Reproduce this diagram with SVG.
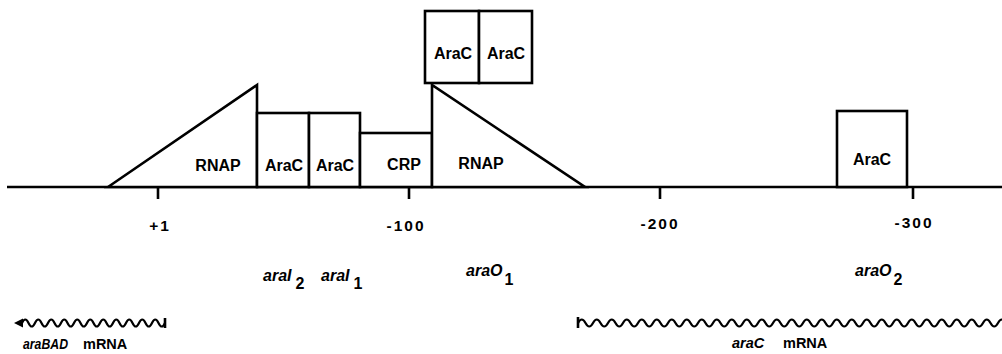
<svg xmlns="http://www.w3.org/2000/svg" width="1002" height="354" viewBox="0 0 1002 354">
<style>
.shape{fill:#fff;stroke:#000;stroke-width:2.6;stroke-linejoin:miter}
.line{fill:none;stroke:#000;stroke-width:2.6}
.wave{fill:none;stroke:#000;stroke-width:2.2}
.lbl{font-family:"Liberation Sans",Arial,sans-serif;font-weight:bold;font-size:16px;fill:#000;text-anchor:middle}
.num{font-family:"Liberation Sans",Arial,sans-serif;font-weight:bold;font-size:15.5px;fill:#000;text-anchor:middle;letter-spacing:2px}
.site{font-family:"Liberation Sans",Arial,sans-serif;font-weight:bold;font-style:italic;font-size:16px;fill:#000}
.sub{font-style:normal;font-size:16px}
.mrna{font-family:"Liberation Sans",Arial,sans-serif;font-weight:bold;font-size:14.5px;fill:#000}
</style>
<rect width="1002" height="354" fill="#fff"/>

<g id="dna">
  <line class="line" x1="7" y1="187" x2="1002" y2="187"/>
  <line class="line" x1="158" y1="187" x2="158" y2="199"/>
  <line class="line" x1="409" y1="187" x2="409" y2="199"/>
  <line class="line" x1="660" y1="187" x2="660" y2="199"/>
  <line class="line" x1="913" y1="187" x2="913" y2="199"/>
</g>

<g id="rnap-left">
  <polygon class="shape" points="108,187 257,85 257,187"/>
  <text class="lbl" x="218" y="171">RNAP</text>
</g>
<g id="arac-i2">
  <rect class="shape" x="257" y="113" width="52" height="74"/>
  <text class="lbl" x="284" y="171">AraC</text>
</g>
<g id="arac-i1">
  <rect class="shape" x="309" y="113" width="51" height="74"/>
  <text class="lbl" x="335" y="171">AraC</text>
</g>
<g id="crp">
  <rect class="shape" x="360" y="133" width="72" height="54"/>
  <text class="lbl" x="404" y="170">CRP</text>
</g>
<g id="rnap-right">
  <polygon class="shape" points="432,85 432,187 585,187"/>
  <text class="lbl" x="481" y="169">RNAP</text>
</g>
<g id="arac-o1">
  <rect class="shape" x="425" y="11" width="54" height="72"/>
  <rect class="shape" x="479" y="11" width="53" height="72"/>
  <text class="lbl" x="453" y="59">AraC</text>
  <text class="lbl" x="506" y="59">AraC</text>
</g>
<g id="arac-o2">
  <rect class="shape" x="837" y="111" width="70" height="76"/>
  <text class="lbl" x="872" y="165">AraC</text>
</g>

<g id="positions">
  <text class="num" x="160" y="231">+1</text>
  <text class="num" x="406" y="231">-100</text>
  <text class="num" x="660" y="229">-200</text>
  <text class="num" x="914" y="228">-300</text>
</g>

<g id="sites">
  <text class="site" x="263" y="281">araI<tspan class="sub" dx="4" dy="8">2</tspan></text>
  <text class="site" x="321" y="281">araI<tspan class="sub" dx="4" dy="8">1</tspan></text>
  <text class="site" x="466" y="276">araO<tspan class="sub" dx="2" dy="9">1</tspan></text>
  <text class="site" x="855" y="276">araO<tspan class="sub" dx="2" dy="9">2</tspan></text>
</g>

<g id="connectors">
  <g id="arabad-mrna">
    <path class="wave" d="M22,323 q3.25,-7 6.5,0 t6.5,0 t6.5,0 t6.5,0 t6.5,0 t6.5,0 t6.5,0 t6.5,0 t6.5,0 t6.5,0 t6.5,0 t6.5,0 t6.5,0 t6.5,0 t6.5,0 t6.5,0 t6.5,0 t6.5,0 t6.5,0 t6.5,0 t6.5,0 t6.5,0"/>
    <polygon points="14,323 23,318.5 23,327.5" fill="#000"/>
    <line class="line" x1="165" y1="318" x2="165" y2="328"/>
  </g>
  <g id="arac-mrna">
    <line class="line" x1="578" y1="317" x2="578" y2="328"/>
    <path class="wave" d="M578,323 q3.75,-7 7.5,0 t7.5,0 t7.5,0 t7.5,0 t7.5,0 t7.5,0 t7.5,0 t7.5,0 t7.5,0 t7.5,0 t7.5,0 t7.5,0 t7.5,0 t7.5,0 t7.5,0 t7.5,0 t7.5,0 t7.5,0 t7.5,0 t7.5,0 t7.5,0 t7.5,0 t7.5,0 t7.5,0 t7.5,0 t7.5,0 t7.5,0 t7.5,0 t7.5,0 t7.5,0 t7.5,0 t7.5,0 t7.5,0 t7.5,0 t7.5,0 t7.5,0 t7.5,0 t7.5,0 t7.5,0 t7.5,0 t7.5,0 t7.5,0 t7.5,0 t7.5,0 t7.5,0 t7.5,0 t7.5,0 t7.5,0 t7.5,0 t7.5,0 t7.5,0 t7.5,0 t7.5,0 t7.5,0 t7.5,0 t7.5,0 t7.5,0"/>
  </g>
</g>

<g id="mrna-labels">
  <text class="mrna" x="23" y="349"><tspan font-style="italic" textLength="45" lengthAdjust="spacingAndGlyphs">araBAD</tspan><tspan x="83">mRNA</tspan></text>
  <text class="mrna" x="732" y="348"><tspan font-style="italic">araC</tspan><tspan x="783">mRNA</tspan></text>
</g>
</svg>
